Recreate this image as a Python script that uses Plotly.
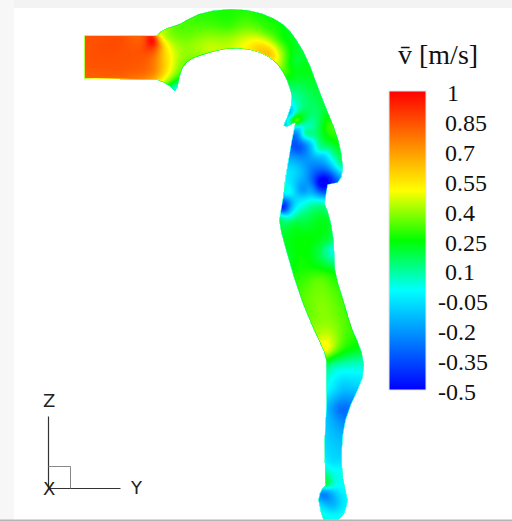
import numpy as np
import plotly.graph_objects as go

W, H = 512, 521

# Vessel outline (picture pixels): wall running from the inlet round the outer side, back by the inner side
outline_x = [84,157,160,167,174,180,188,197,213,230,248,263,274,283,291,297,304,310,318,323,328,335,339,342,344,343,338,328,326,325,328,331,335,335,334,338,343,348,353,358,363,365,364,358,351,345,343,342,342,343,346,348,347,345,342,338,
             323,320,318,319,322,325,325,324,324,325,327,326,325,327,325,319,312,302,293,285,280,278,280,284,284,286,288,291,295,287,283,287,292,292,290,287,282,277,270,260,250,237,225,213,203,193,187,182,180,178,175,172,170,164,157,157,84]
outline_y = [35,35,31,27,26,24,19,13,10,8,9,13,18,23,31,40,51,63,87,100,112,128,140,153,170,177,183,185,197,204,210,220,243,255,270,282,297,315,333,340,353,366,378,390,405,420,435,450,465,480,491,500,507,513,518,520,
             520,512,500,493,488,485,470,457,440,423,400,385,370,360,355,340,328,303,277,247,230,220,212,197,180,172,162,140,123,127,126,117,103,97,90,80,71,63,58,52,50,48,49,52,55,58,62,68,75,87,92,89,86,83,80,80,79]
# Wall vertices that stay sharp
corner_x = [84, 157, 295, 157, 84, 338, 323, 287, 283, 175, 178, 338, 328, 278, 325, 325, 318, 348]
corner_y = [35, 35, 123, 80, 79, 520, 520, 127, 126, 92, 87, 183, 185, 212, 485, 204, 500, 500]

# Field probes: x, y, mean velocity
probe_x = [90,90,90,120,120,120,145,145,145,152,155,155,155,160,165,170,160,165,172,162,168,170,175,177,180,
           203,203,220,243,260,270,277,267,277,237,253,280,290,293,303,287,310,297,293,300,317,327,320,310,300,295,288,292,
           297,300,293,310,310,323,333,340,317,327,337,303,290,287,
           320,323,310,293,300,283,290,280,297,310,325,310,327,293,284,
           310,330,334,330,335,300,290,310,320,300,333,320,337,310,323,317,327,343,357,340,332,357,337,
           333,357,330,343,353,340,333,330,340,333,340,330,327,338,323,330,340,347,333,327,340,320,
           305,320,335,313,290,303,287,282,303,327,330,190,195,210,228,250,300,345,305]
probe_y = [40,57,74,40,57,74,40,57,74,38,40,57,75,55,50,50,36,33,30,78,74,82,88,80,62,
           20,33,43,43,45,53,58,33,27,20,20,40,50,63,67,70,90,90,103,107,113,127,140,127,127,120,125,115,
           133,147,157,143,160,153,157,167,170,180,180,173,180,193,
           183,193,187,190,200,210,207,215,212,200,202,213,217,223,223,
           240,240,250,260,270,260,260,267,280,287,287,307,313,313,343,337,350,340,350,357,358,363,370,
           367,368,390,383,387,410,417,440,440,463,470,480,483,482,493,490,493,500,507,513,513,503,
           133,150,162,167,173,190,203,210,203,203,127,35,45,48,25,18,165,325,225]
probe_v = [.84,.84,.82,.85,.84,.82,.87,.83,.78,.95,.9,.76,.7,.68,.58,.5,.55,.42,.36,.55,.5,.32,.05,.25,.4,
           .3,.36,.42,.48,.56,.6,.5,.34,.27,.3,.3,.3,.26,.22,.23,.3,.18,.14,.02,.1,.15,.28,.15,.08,.0,.3,-.03,.0,
           -.2,-.33,-.2,-.1,-.2,-.02,.06,.05,-.3,-.5,-.3,-.15,-.05,.0,
           -.5,-.3,-.2,-.05,-.05,-.35,-.2,.0,.05,.0,.02,.15,.2,.18,.15,
           .25,.17,.02,.12,.22,.26,.22,.26,.34,.31,.32,.38,.35,.35,.5,.43,.48,.33,.22,.2,.25,.07,.03,
           .08,.03,-.03,-.08,-.1,-.28,-.18,-.1,-.13,-.05,.0,.12,.18,.02,-.22,-.08,-.05,-.02,-.12,-.02,-.02,-.1,
           .08,.05,.03,-.25,-.05,-.2,-.3,-.35,.0,.02,.3,.35,.4,.44,.3,.3,-.15,.33,.2]
wall_value = 0.1

# Colour bar
bar_min, bar_max = -0.5, 1.0
tick_values = [1, 0.85, 0.7, 0.55, 0.4, 0.25, 0.1, -0.05, -0.2, -0.35, -0.5]
tick_labels = ["1", "0.85", "0.7", "0.55", "0.4", "0.25", "0.1", "-0.05", "-0.2", "-0.35", "-0.5"]
stop_values = [-0.5, 0.0, 0.25, 0.5, 1.0]
stop_colors = ["#0000ff", "#00ffff", "#00ff00", "#ffff00", "#ff0000"]
legend_title = "v\u0304 [m/s]"

# ---- Smooth the traced wall a little, keeping the real corners
ox, oy = np.array(outline_x, float), np.array(outline_y, float)
keep = np.zeros(ox.size, bool)
for cx, cy in zip(corner_x, corner_y):
    keep |= (ox == cx) & (oy == cy)
sx = 0.25 * np.roll(ox, 1) + 0.5 * ox + 0.25 * np.roll(ox, -1)
sy = 0.25 * np.roll(oy, 1) + 0.5 * oy + 0.25 * np.roll(oy, -1)
ox = np.where(keep, ox, sx)
oy = np.where(keep, oy, sy)

# ---- Rebuild the field on the pixel raster
px, py = np.array(probe_x, float), np.array(probe_y, float)
pv = np.array(probe_v, float)
gx = np.arange(80, 372)
gy = np.arange(4, 522)
XX, YY = np.meshgrid(gx + 0.5, gy + 0.5)
qx, qy = XX.ravel(), YY.ravel()

ax_, ay_ = ox, oy
bx_, by_ = np.roll(ox, -1), np.roll(oy, -1)
inside = np.zeros(qx.size, bool)
for a, b, c, d in zip(ax_, ay_, bx_, by_):
    if b == d:
        continue
    cross = ((b > qy) != (d > qy))
    xc = a + (qy - b) * (c - a) / (d - b)
    inside ^= cross & (qx < xc)
ix, iy = qx[inside], qy[inside]
dist = np.full(ix.size, 1e9)
for a, b, c, d in zip(ax_, ay_, bx_, by_):
    ex, ey = c - a, d - b
    t = np.clip(((ix - a) * ex + (iy - b) * ey) / max(ex * ex + ey * ey, 1e-9), 0, 1)
    dist = np.minimum(dist, np.hypot(ix - a - t * ex, iy - b - t * ey))


def kernel(x0, y0, x1, y1):
    return np.sqrt((x0[:, None] - x1[None, :]) ** 2 + (y0[:, None] - y1[None, :]) ** 2 + 6.0 ** 2)


n = px.size
A = np.zeros((n + 1, n + 1))
A[:n, :n] = kernel(px, py, px, py)
A[n, :n] = 1
A[:n, n] = 1
sol = np.linalg.solve(A, np.r_[pv, 0])
vals = kernel(ix, iy, px, py) @ sol[:n] + sol[n]
rim = np.clip(dist / 1.2, 0, 1)
vals = wall_value + (vals - wall_value) * rim
Z = np.full(qx.size, np.nan)
Z[inside] = np.clip(vals, bar_min, bar_max)
Z = Z.reshape(XX.shape)

colorscale = [[(v - bar_min) / (bar_max - bar_min), c] for v, c in zip(stop_values, stop_colors)]

fig = go.Figure()
fig.add_trace(go.Heatmap(
    x=gx + 0.5, y=gy + 0.5, z=Z, zmin=bar_min, zmax=bar_max, colorscale=colorscale, hoverongaps=False,
    colorbar=dict(x=389 / W, xanchor="left", y=1 - 91 / H, yanchor="top", thickness=37, thicknessmode="pixels",
                  len=299, lenmode="pixels", outlinewidth=1, outlinecolor="#e4e4e4", xpad=0, ypad=0,
                  tickvals=tick_values, showticklabels=False, ticks=""),
))
# Soft edge of the vessel
fig.add_trace(go.Scatter(x=np.r_[ox, ox[:1]], y=np.r_[oy, oy[:1]], mode="lines",
                         line=dict(color="rgba(255,255,255,0.5)", width=1), hoverinfo="skip", showlegend=False))
# Coordinate triad
tri_x = [48.5, 48.5, None, 48.5, 120.5]
tri_y = [416.5, 488.5, None, 488.5, 488.5]
fig.add_trace(go.Scatter(x=tri_x, y=tri_y, mode="lines", line=dict(color="#333333", width=1.2),
                         hoverinfo="skip", showlegend=False))
fig.add_trace(go.Scatter(x=[48.5, 70.5, 70.5], y=[466.5, 466.5, 488.5], mode="lines",
                         line=dict(color="#888888", width=1), hoverinfo="skip", showlegend=False))

shapes = [
    dict(type="rect", xref="x", yref="y", x0=0, x1=W, y0=0, y1=8, fillcolor="#f3f3f3", line_width=0, layer="below"),
    dict(type="rect", xref="x", yref="y", x0=0, x1=14, y0=0, y1=H, fillcolor="#f7f7f7", line_width=0, layer="below"),
    dict(type="rect", xref="x", yref="y", x0=0, x1=W, y0=519.5, y1=H, fillcolor="#b4b4b4", line_width=0, layer="above"),
]
ann = []
for v, t in zip(tick_values, tick_labels):
    ypos = 91 + (bar_max - v) / (bar_max - bar_min) * 299
    ann.append(dict(x=436 if t.startswith("-") else (445 if t == "1" else 443), y=ypos + 2, text=t, xanchor="left",
                    yanchor="middle", showarrow=False, xref="x", yref="y",
                    font=dict(family="Liberation Serif", size=24, color="#111111")))
ann.append(dict(x=396, y=54, text=legend_title, xanchor="left", yanchor="middle", showarrow=False, xref="x", yref="y",
                font=dict(family="Liberation Serif", size=28, color="#111111")))
for label, lx, ly in [("Z", 48.5, 400), ("X", 48.5, 488), ("Y", 136, 487)]:
    ann.append(dict(x=lx, y=ly, text=label, xanchor="center", yanchor="middle", showarrow=False, xref="x", yref="y",
                    font=dict(family="DejaVu Sans", size=18, color="#222222")))

fig.update_layout(
    width=W, height=H, autosize=False, margin=dict(l=0, r=0, t=0, b=0),
    paper_bgcolor="white", plot_bgcolor="white", showlegend=False, shapes=shapes, annotations=ann,
    xaxis=dict(range=[0, W], visible=False, fixedrange=True, domain=[0, 1]),
    yaxis=dict(range=[H, 0], visible=False, fixedrange=True, domain=[0, 1]),
)
fig.write_html("out.html", config=dict(displayModeBar=False), post_script="document.body.style.margin='0';")
